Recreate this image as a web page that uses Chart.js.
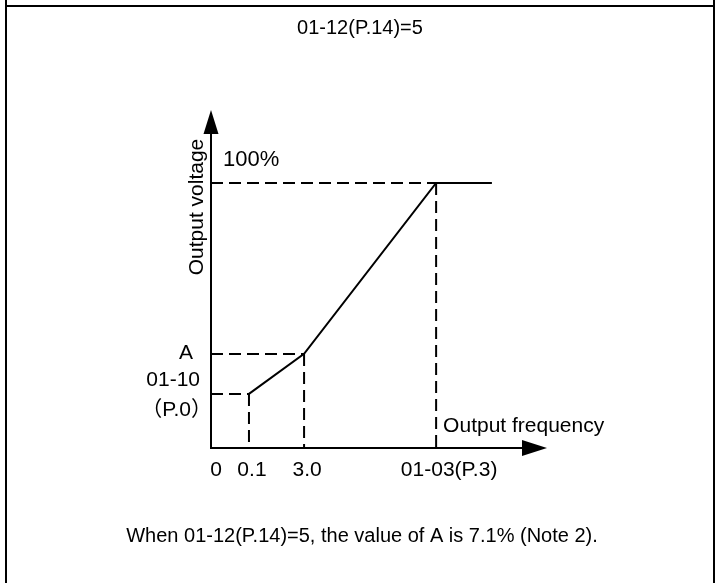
<!DOCTYPE html>
<html>
<head>
<meta charset="utf-8">
<script src="https://cdn.jsdelivr.net/npm/chart.js@4.4.1/dist/chart.umd.min.js"></script>
<style>
  html, body { margin: 0; padding: 0; background: #fff; }
</style>
</head>
<body>
<canvas id="vfChart" width="720" height="583"></canvas>
<script>
// V/F curve break points: x is the position along the frequency axis (0-100),
// y is output voltage in % (the drawing is schematic, not to scale)
const curveFreq = [11.3, 27.7, 67.0, 83.6];
const curveVolt = [20.4, 35.5, 100, 100];

// frequency axis labels and where they sit
const freqLabels = ['0', '0.1', '3.0', '01-03(P.3)'];
const freqAt = [0, 11.3, 27.7, 67.0];

// voltage axis labels and where they sit
const voltLabels = [['01-10', '（P.0）'], 'A', '100%'];
const voltAt = [20.4, 35.5, 100];

const titleText = '01-12(P.14)=5';
const noteText = 'When 01-12(P.14)=5, the value of A is 7.1% (Note 2).';
const xAxisName = 'Output frequency';
const yAxisName = 'Output voltage';

const FONT = '"Liberation Sans", Arial, "Noto Sans CJK SC", sans-serif';

// solid curve
const curvePoints = curveFreq.map((x, i) => ({ x: x, y: curveVolt[i] }));

// dashed guides from each knee of the curve to both axes
const guideSets = [];
for (let i = 0; i < 3; i++) {
    const x = curveFreq[i], y = curveVolt[i];
    guideSets.push([{ x: 0, y: y }, { x: x, y: y }]);
    guideSets.push([{ x: x, y: y }, { x: x, y: 0 }]);
}

function arrow(ctx, tipX, tipY, dir, len, half) {
    ctx.beginPath();
    if (dir === 'right') {
        ctx.moveTo(tipX, tipY);
        ctx.lineTo(tipX - len, tipY - half);
        ctx.lineTo(tipX - len, tipY + half);
    } else {
        ctx.moveTo(tipX, tipY);
        ctx.lineTo(tipX - half, tipY + len);
        ctx.lineTo(tipX + half, tipY + len);
    }
    ctx.closePath();
    ctx.fill();
}

const diagramPlugin = {
    id: 'diagram',
    beforeDraw(chart) {
        const ctx = chart.ctx;
        ctx.save();
        ctx.fillStyle = '#fff';
        ctx.fillRect(0, 0, chart.width, chart.height);

        // box frame (open at the bottom)
        ctx.strokeStyle = '#000';
        ctx.lineWidth = 2;
        ctx.beginPath();
        ctx.moveTo(6, 0); ctx.lineTo(6, chart.height);
        ctx.moveTo(714, 0); ctx.lineTo(714, chart.height);
        ctx.moveTo(5, 6); ctx.lineTo(715, 6);
        ctx.stroke();
        ctx.restore();
    },
    afterDraw(chart) {
        const ctx = chart.ctx;
        const xs = chart.scales.x, ys = chart.scales.y;
        const x0 = xs.getPixelForValue(0), y0 = ys.getPixelForValue(0);
        const xEnd = xs.getPixelForValue(xs.max), yEnd = ys.getPixelForValue(ys.max);

        ctx.save();
        ctx.strokeStyle = '#000';
        ctx.fillStyle = '#000';
        ctx.lineWidth = 2;

        // axes with arrow heads
        ctx.beginPath();
        ctx.moveTo(x0, y0); ctx.lineTo(xEnd - 20, y0);
        ctx.moveTo(x0, y0 + 1); ctx.lineTo(x0, yEnd + 20);
        ctx.stroke();
        arrow(ctx, xEnd, y0, 'right', 25, 8);
        arrow(ctx, x0, yEnd, 'up', 24, 7.5);

        // title and note
        ctx.font = '20px ' + FONT;
        ctx.textAlign = 'center';
        ctx.textBaseline = 'middle';
        ctx.fillText(titleText, 360, 28);
        ctx.fillText(noteText, 362, 536);

        ctx.font = '21px ' + FONT;

        // frequency tick labels
        const nudge = [5, 3, 3, 13];
        freqLabels.forEach((lab, i) => {
            ctx.fillText(lab, xs.getPixelForValue(freqAt[i]) + nudge[i], y0 + 22);
        });

        // voltage labels
        ctx.textAlign = 'right';
        const low = ys.getPixelForValue(voltAt[0]);
        ctx.fillText(voltLabels[0][0], x0 - 11, low - 14);
        ctx.fillText(voltLabels[0][1], x0 + 1, low + 16);
        ctx.fillText(voltLabels[1], x0 - 18, ys.getPixelForValue(voltAt[1]) - 1);
        ctx.textAlign = 'left';
        ctx.font = '22px ' + FONT;
        ctx.fillText(voltLabels[2], x0 + 12, ys.getPixelForValue(voltAt[2]) - 23);
        ctx.font = '21px ' + FONT;

        // axis names
        ctx.textBaseline = 'alphabetic';
        ctx.fillText(xAxisName, xs.getPixelForValue(freqAt[3]) + 7, y0 - 16);
        ctx.save();
        ctx.translate(x0 - 8, 207);
        ctx.rotate(-Math.PI / 2);
        ctx.textAlign = 'center';
        ctx.fillText(yAxisName, 0, 0);
        ctx.restore();

        ctx.restore();
    }
};

const chart = new Chart(document.getElementById('vfChart'), {
    type: 'scatter',
    data: {
        datasets: [
            {
                data: curvePoints,
                showLine: true,
                borderColor: '#000',
                borderWidth: 2,
                pointRadius: 0
            }
        ].concat(guideSets.map(pts => ({
            data: pts,
            showLine: true,
            borderColor: '#000',
            borderWidth: 2,
            borderDash: [12, 6],
            pointRadius: 0
        })))
    },
    options: {
        responsive: false,
        animation: false,
        layout: { padding: { left: 211, right: 173, top: 110, bottom: 135 } },
        plugins: {
            legend: { display: false },
            tooltip: { enabled: false }
        },
        scales: {
            x: { type: 'linear', min: 0, max: 100, display: false },
            y: { type: 'linear', min: 0, max: 127.5, display: false }
        }
    },
    plugins: [diagramPlugin]
});
</script>
</body>
</html>
